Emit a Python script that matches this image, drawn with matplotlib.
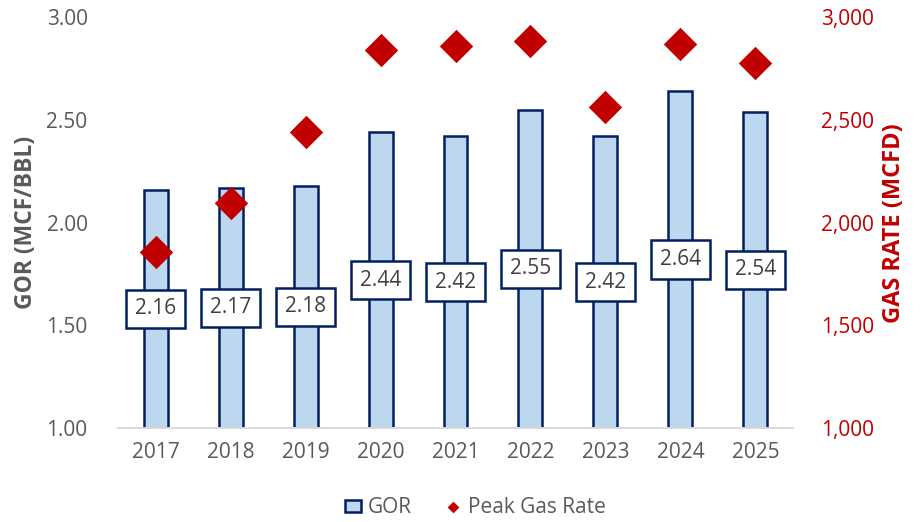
import numpy as np
import matplotlib.pyplot as plt
from matplotlib.ticker import FuncFormatter

years = ['2017', '2018', '2019', '2020', '2021', '2022', '2023', '2024', '2025']
gor = [2.16, 2.17, 2.18, 2.44, 2.42, 2.55, 2.42, 2.64, 2.54]
peak_gas = [1856, 2095, 2440, 2839, 2859, 2883, 2562, 2869, 2776]

plt.rcParams['font.family'] = ['Open Sans', 'DejaVu Sans']

fig = plt.figure(figsize=(9.23, 5.22), dpi=100)
ax = fig.add_axes([0.128, 0.180, 0.731, 0.787])
ax2 = ax.twinx()

x = np.arange(len(years))
base = 1.0
ax.bar(x, np.array(gor) - base, bottom=base, width=0.32,
       color='#BDD7EE', edgecolor='#002060', linewidth=1.8, label='GOR', zorder=2)

# value labels sit half way up each bar
for xi, v in zip(x, gor):
    ax.text(xi, (base + v) / 2, f'{v:.2f}', ha='center', va='center',
            fontsize=15, color='#404040', zorder=5,
            bbox=dict(boxstyle='square,pad=0.42', fc='white', ec='#002060', lw=1.8))

ax2.scatter(x, peak_gas, marker='D', s=290, color='#C00000', zorder=4,
            label='Peak Gas Rate', linewidths=0)

ax.set_ylim(1.0, 3.0)
ax.set_yticks([1.0, 1.5, 2.0, 2.5, 3.0])
ax.yaxis.set_major_formatter(FuncFormatter(lambda v, p: f'{v:.2f}'))
ax2.set_ylim(1000, 3000)
ax2.set_yticks([1000, 1500, 2000, 2500, 3000])
ax2.yaxis.set_major_formatter(FuncFormatter(lambda v, p: f'{v:,.0f}'))
ax.set_xlim(-0.5, len(years) - 0.5)
ax.set_xticks(x)
ax.set_xticklabels(years)

for a in (ax, ax2):
    for s in ('top', 'left', 'right'):
        a.spines[s].set_visible(False)
    a.spines['bottom'].set_color('#D9D9D9')
    a.spines['bottom'].set_linewidth(1.2)
ax.tick_params(axis='both', length=0, labelsize=15, colors='#595959', pad=10)
ax.tick_params(axis='y', pad=22)
ax2.tick_params(axis='y', length=0, labelsize=15, colors='#C00000', pad=20)

ax.set_ylabel('GOR (MCF/BBL)', fontsize=16.5, fontweight='bold', color='#595959', labelpad=6)
ax2.set_ylabel('GAS RATE (MCFD)', fontsize=17, fontweight='bold', color='#C00000', labelpad=6)

h1, l1 = ax.get_legend_handles_labels()
h2, l2 = ax2.get_legend_handles_labels()
leg = fig.legend(h1 + h2, l1 + l2, loc='center', bbox_to_anchor=(0.515, 0.027), ncol=2,
                 frameon=False, fontsize=15, labelcolor='#595959', handlelength=0.8,
                 handleheight=0.8, handletextpad=0.3, columnspacing=1.6,
                 markerscale=0.35)
# make the GOR swatch a small square like the original
patch = leg.get_patches()[0]
patch.set_height(patch.get_height() * 0.75)
patch.set_y(patch.get_y() + patch.get_height() * 0.17)

plt.savefig('out.png', format='png')
